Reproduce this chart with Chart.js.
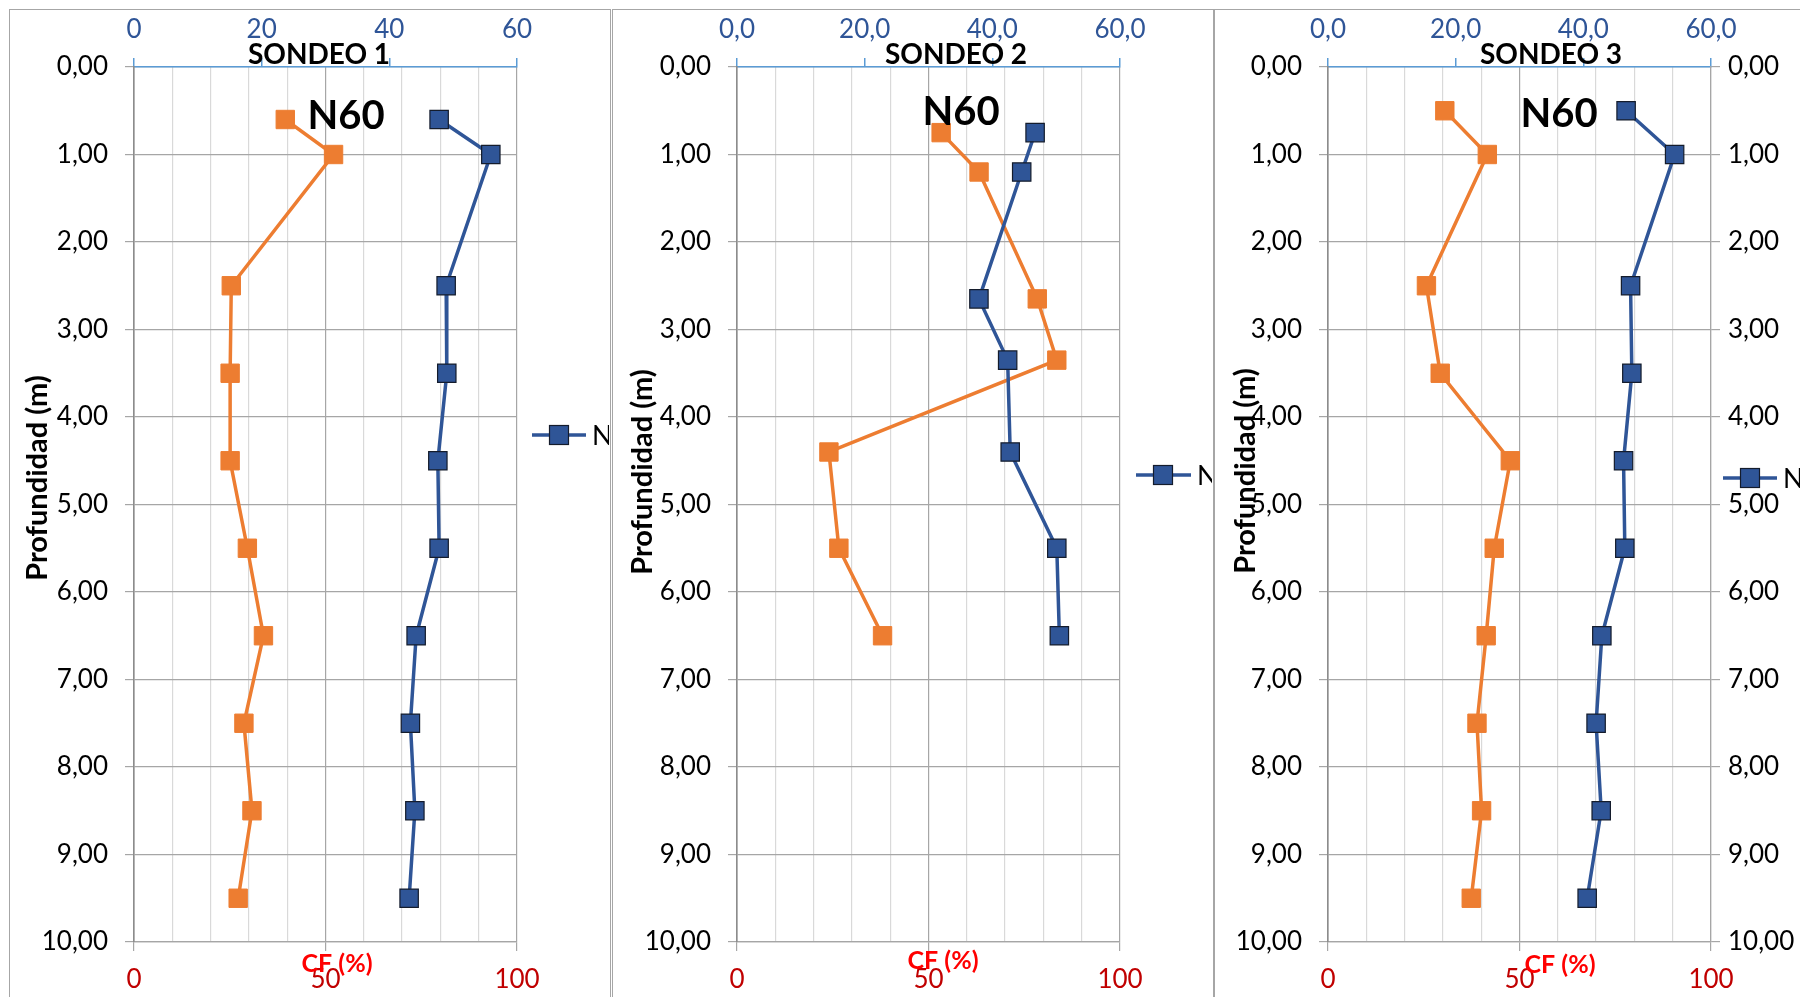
<!DOCTYPE html>
<html>
<head>
<meta charset="utf-8">
<script src="https://cdn.jsdelivr.net/npm/chart.js@4.4.0/dist/chart.umd.min.js"></script>
<style>
  body { margin: 0; background: #fff; width: 1800px; height: 997px; overflow: hidden; position: relative; }
  .panel { position: absolute; top: 9px; height: 1010px; border: 1px solid #a6a6a6; box-sizing: border-box; }
  canvas { position: absolute; top: 0; }
</style>
</head>
<body>
<div class="panel" style="left:9px;width:602px"></div>
<div class="panel" style="left:612px;width:602px"></div>
<div class="panel" style="left:1214px;width:620px"></div>
<canvas id="c1" width="598" height="997" style="left:11px"></canvas>
<canvas id="c2" width="598" height="997" style="left:614px"></canvas>
<canvas id="c3" width="584" height="997" style="left:1216px"></canvas>
<script>
// depth (m) of each reading, per borehole
var depth1 = [0.6, 1.0, 2.5, 3.5, 4.5, 5.5, 6.5, 7.5, 8.5, 9.5];
var depth2 = [0.75, 1.2, 2.65, 3.35, 4.4, 5.5, 6.5];
var depth3 = [0.5, 1.0, 2.5, 3.5, 4.5, 5.5, 6.5, 7.5, 8.5, 9.5];
// N values (top axis, 0-60)
var n1 = [47.8, 55.9, 48.9, 49.0, 47.6, 47.8, 44.2, 43.3, 44.0, 43.1];
var n2 = [46.7, 44.6, 37.9, 42.4, 42.8, 50.1, 50.5];
var n3 = [46.7, 54.3, 47.4, 47.6, 46.3, 46.5, 42.9, 42.0, 42.8, 40.6];
// CF (%) values (bottom axis, 0-100)
var cf1 = [39.5, 52.1, 25.4, 25.1, 25.1, 29.6, 33.8, 28.7, 30.8, 27.2];
var cf2 = [53.3, 63.2, 78.4, 83.5, 24.0, 26.6, 38.0];
var cf3 = [30.5, 41.6, 25.7, 29.3, 47.6, 43.4, 41.3, 38.9, 40.1, 37.4];
// titles / labels
var titles = ['SONDEO 1', 'SONDEO 2', 'SONDEO 3'];
var legendName = 'N';
var yTitle = 'Profundidad (m)';
var bottomTitle = 'CF (%)';
var noteText = 'N60';

Chart.defaults.font.family = 'Lato';
Chart.defaults.animation = false;

function pts(xs, ys) {
  return xs.map(function (v, i) { return { x: v, y: ys[i] }; });
}
function comma(v, d) { return v.toFixed(d).replace('.', ','); }

// draws the title, notes, axis titles and the little legend
var annotText = {
  id: 'annotText',
  afterDraw: function (chart, args, o) {
    var ctx = chart.ctx;
    ctx.save();
    ctx.textAlign = 'center';
    ctx.textBaseline = 'middle';
    ctx.fillStyle = '#000';
    ctx.font = 'bold 28px Lato';
    ctx.fillText(o.title, o.titleX, o.titleY);
    ctx.font = 'bold 40px Lato';
    ctx.fillText(noteText, o.noteX, o.noteY);
    ctx.fillStyle = '#ff0000';
    ctx.font = 'bold 25px Lato';
    ctx.fillText(bottomTitle, o.cfX, o.cfY);
    ctx.save();
    ctx.translate(o.profX, o.profY);
    ctx.rotate(-Math.PI / 2);
    ctx.fillStyle = '#000';
    ctx.font = 'bold 29px Lato';
    ctx.fillText(yTitle, 0, 0);
    ctx.restore();
    // legend entry for the N series
    var ds = chart.data.datasets[0];
    ctx.strokeStyle = ds.borderColor;
    ctx.lineWidth = ds.borderWidth;
    ctx.beginPath();
    ctx.moveTo(o.legX0, o.legY);
    ctx.lineTo(o.legX1, o.legY);
    ctx.stroke();
    ctx.fillStyle = ds.pointBackgroundColor;
    ctx.strokeStyle = ds.pointBorderColor;
    ctx.lineWidth = 1.2;
    ctx.fillRect(o.legMark - 9.5, o.legY - 9.5, 19, 19);
    ctx.strokeRect(o.legMark - 9.5, o.legY - 9.5, 19, 19);
    ctx.fillStyle = '#000';
    ctx.textAlign = 'left';
    ctx.font = '27px Lato';
    ctx.fillText(legendName, o.legText, o.legY + 1);
    ctx.restore();
  }
};

function makeSondeo(id, depth, n, cf, p) {
  var scales = {
    xTop: {
      type: 'linear', position: 'top', min: 0, max: 60,
      ticks: { stepSize: 20, color: '#2F5597', padding: 13, font: { size: 26 }, autoSkip: false, maxRotation: 0,
        callback: function (v) { return p.topDec ? comma(v, 1) : String(v); } },
      grid: { drawOnChartArea: false, tickLength: 9, color: '#5B9BD5', lineWidth: 1.5 },
      border: { color: '#5B9BD5', width: 1.5 },
      afterFit: function (s) { s.height = p.top; }
    },
    xBot: {
      type: 'linear', position: 'bottom', min: 0, max: 100,
      ticks: { stepSize: 10, color: '#C00000', padding: 13, font: { size: 26 }, autoSkip: false, maxRotation: 0,
        callback: function (v) { return v % 50 === 0 ? String(v) : ''; } },
      grid: {
        tickLength: 9, lineWidth: 1.2,
        color: function (c) { return c.tick && c.tick.value % 50 === 0 ? '#A6A6A6' : '#D9D9D9'; },
        tickColor: function (c) { return c.tick && c.tick.value % 50 === 0 ? '#A6A6A6' : 'rgba(0,0,0,0)'; }
      },
      border: { color: '#A6A6A6', width: 1.2 },
      afterFit: function (s) { s.height = p.bottom; }
    },
    y: {
      type: 'linear', position: 'left', reverse: true, min: 0, max: 10,
      ticks: { stepSize: 1, color: '#000', padding: 17, font: { size: 26 }, autoSkip: false,
        callback: function (v) { return comma(v, 2); } },
      grid: { color: '#A6A6A6', tickLength: 9, lineWidth: 1.2 },
      border: { color: '#8C8C8C', width: 1.6 },
      afterFit: function (s) { s.width = p.left; }
    }
  };
  if (p.rightAxis) {
    scales.y2 = {
      type: 'linear', position: 'right', reverse: true, min: 0, max: 10,
      ticks: { stepSize: 1, color: '#000', padding: 8, font: { size: 26 }, autoSkip: false,
        callback: function (v) { return comma(v, 2); } },
      grid: { drawOnChartArea: false, color: '#A6A6A6', tickLength: 9, lineWidth: 1.2 },
      border: { color: '#A6A6A6', width: 1.2 },
      afterFit: function (s) { s.width = p.right; }
    };
  }
  return new Chart(document.getElementById(id), {
    type: 'scatter',
    data: {
      datasets: [
        {
          label: legendName, data: pts(n, depth), xAxisID: 'xTop', yAxisID: 'y', showLine: true,
          borderColor: '#2F5597', borderWidth: 3.5,
          pointStyle: 'rect', pointRadius: 13, pointHoverRadius: 13,
          pointBackgroundColor: '#2F5597', pointBorderColor: '#141C2C', pointBorderWidth: 1.2
        },
        {
          label: bottomTitle, data: pts(cf, depth), xAxisID: 'xBot', yAxisID: 'y', showLine: true,
          borderColor: '#ED7D31', borderWidth: 3.5,
          pointStyle: 'rect', pointRadius: 13, pointHoverRadius: 13,
          pointBackgroundColor: '#ED7D31', pointBorderColor: '#ED7D31', pointBorderWidth: 1
        }
      ]
    },
    options: {
      responsive: false,
      layout: { padding: { left: 0, top: 0, bottom: 0, right: p.rightAxis ? 0 : p.right } },
      scales: scales,
      plugins: {
        legend: { display: false },
        tooltip: { enabled: false },
        annotText: p.text
      }
    },
    plugins: [annotText]
  });
}

makeSondeo('c1', depth1, n1, cf1, {
  topDec: false, rightAxis: false, left: 123, right: 92, top: 67, bottom: 55,
  text: { title: titles[0], titleX: 308, titleY: 55, noteX: 335, noteY: 116, cfX: 326, cfY: 964,
    profX: 27, profY: 478, legX0: 521, legX1: 575, legMark: 548, legY: 435, legText: 581 }
});
makeSondeo('c2', depth2, n2, cf2, {
  topDec: true, rightAxis: false, left: 123, right: 92, top: 67, bottom: 55,
  text: { title: titles[1], titleX: 342, titleY: 55, noteX: 347, noteY: 112, cfX: 329, cfY: 961,
    profX: 29, profY: 472, legX0: 522, legX1: 577, legMark: 549, legY: 475, legText: 583 }
});
makeSondeo('c3', depth3, n3, cf3, {
  topDec: true, rightAxis: true, left: 112, right: 89, top: 67, bottom: 55,
  text: { title: titles[2], titleX: 335, titleY: 55, noteX: 343, noteY: 114, cfX: 344, cfY: 965,
    profX: 30, profY: 471, legX0: 507, legX1: 561, legMark: 534, legY: 478, legText: 567 }
});
</script>
</body>
</html>
